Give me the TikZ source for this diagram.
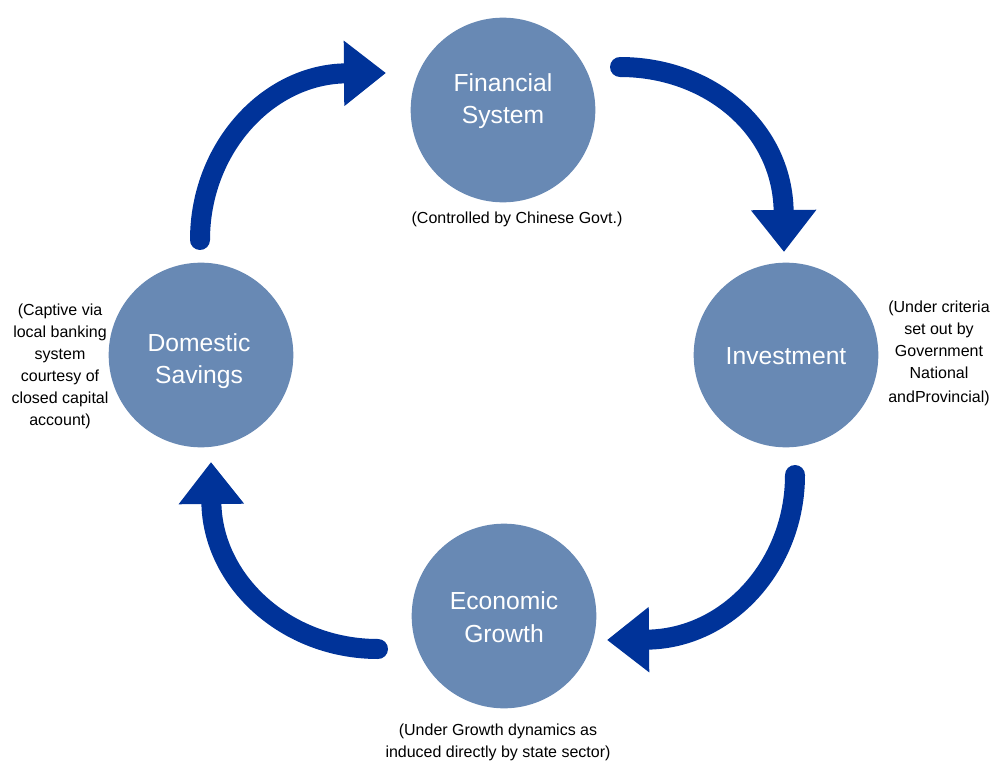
\documentclass[tikz,border=0pt]{standalone}
\usepackage{fontspec}
\setmainfont{Liberation Sans}
\usetikzlibrary{arrows.meta}
\definecolor{arrowblue}{RGB}{0,51,153}
\definecolor{bubblefill}{RGB}{104,137,180}
\tikzset{
  bubble/.style={circle, fill=bubblefill, draw=none, minimum size=138.5pt, inner sep=0pt},
  bubtext/.style={text=white, align=center, font=\fontsize{18.5}{24.5}\selectfont},
  note/.style={text=black, align=center, font=\fontsize{12}{16.5}\selectfont},
  flow/.style={draw=arrowblue, line width=15pt, line cap=round,
    -{Triangle[length=31.5pt, width=47pt]}},
}
\begin{document}
\begin{tikzpicture}[x=0.75pt, y=-0.75pt]
\useasboundingbox (0,0) rectangle (996,763);
% circles
\node[bubble] (fin) at (503,110) {};
\node[bubble] (inv) at (786,355) {};
\node[bubble] (eco) at (504,616) {};
\node[bubble] (sav) at (201,355) {};
% circle texts
\node[bubtext] (fint) at (503,101) {Financial\\System};
\node[bubtext] (invt) at (786,356) {Investment};
\node[bubtext] (ecot) at (504,617) {Economic\\Growth};
\node[bubtext] (savt) at (199,361) {Domestic\\Savings};
% notes
\node[note] (finn) at (517,219) {(Controlled by Chinese Govt.)};
\node[note] (invn) at (939,353) {(Under criteria\\set out by\\Government\\National\\[1.5pt]andProvincial)};
\node[note] (econ) at (498,742) {(Under Growth dynamics as\\induced directly by state sector)};
\node[note] (savn) at (60,366) {(Captive via\\local banking\\system\\courtesy of\\closed capital\\account)};
% arrow end coordinates
\coordinate (t1) at (200,240);
\coordinate (h1) at (386,73);
\coordinate (t2) at (620,67);
\coordinate (h2) at (784,252);
\coordinate (t3) at (795,475);
\coordinate (h3) at (607,640);
\coordinate (t4) at (378,649);
\coordinate (h4) at (211,462);
% arrows
\draw[flow] (t1) .. controls (200,148) and (268,74) .. (h1);
\draw[flow] (t2) .. controls (709,67) and (783,128) .. (h2);
\draw[flow] (t3) .. controls (795,565) and (728,639) .. (h3);
\draw[flow] (t4) .. controls (286,649) and (212,581) .. (h4);
\end{tikzpicture}
\end{document}
